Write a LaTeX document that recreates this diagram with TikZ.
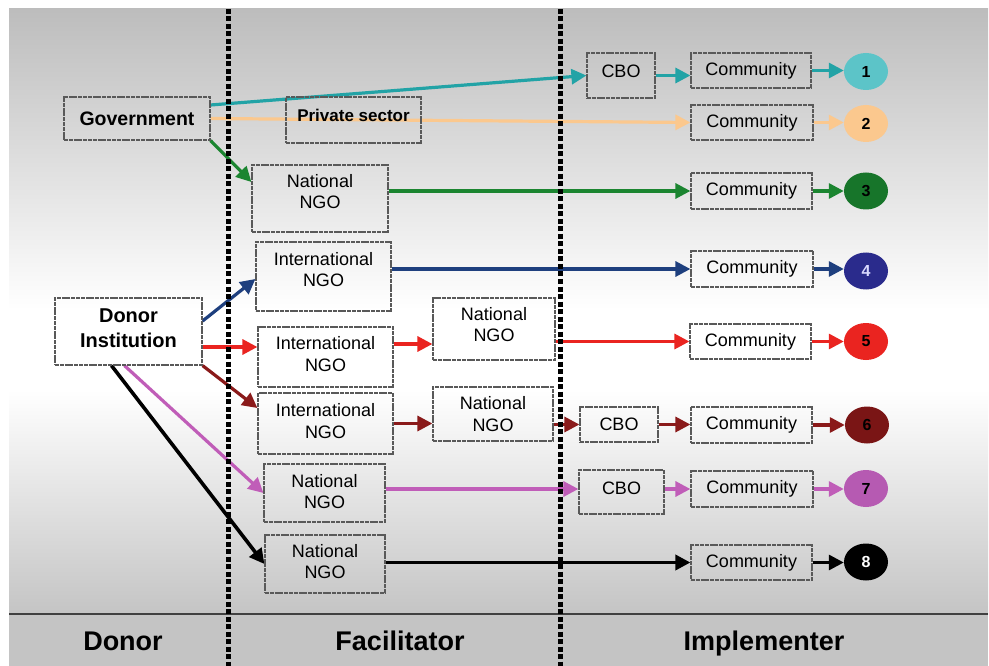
\documentclass[tikz,border=0pt]{standalone}
\usepackage{fontspec}
\setmainfont{Liberation Sans}
\usetikzlibrary{arrows.meta,shapes.geometric,calc,backgrounds}

\definecolor{cteal}{HTML}{22A3A6}
\definecolor{ctealc}{HTML}{5CC4C8}
\definecolor{cpeach}{HTML}{FBC88E}
\definecolor{cgreen}{HTML}{1B8530}
\definecolor{cgreenc}{HTML}{17752A}
\definecolor{cnavy}{HTML}{1E3F7E}
\definecolor{cnavyc}{HTML}{2A2B8C}
\definecolor{cred}{HTML}{EA2420}
\definecolor{cdred}{HTML}{8A1A1A}
\definecolor{cdredc}{HTML}{7A1515}
\definecolor{cmag}{HTML}{C05DB8}
\definecolor{cmagc}{HTML}{B65AB2}

\begin{document}
\begin{tikzpicture}[x=1pt,y=-1pt,
  box/.style={draw=black!65, line width=1.2pt, dash pattern=on 4pt off 0.8pt, inner sep=0pt,
              font=\fontsize{18}{21.5}\selectfont, align=center},
  lbl/.style={align=center, font=\fontsize{18}{21.5}\selectfont, inner sep=0pt},
  blbl/.style={align=center, font=\fontsize{20}{25}\selectfont\bfseries, inner sep=0pt},
  num/.style={ellipse, minimum width=44pt, minimum height=37pt, inner sep=0pt,
              font=\fontsize{16}{16}\selectfont\bfseries},
  arr/.style={line width=3.2pt, -{Triangle[length=15pt,width=15pt]}},
  zone/.style={font=\fontsize{27}{27}\selectfont\bfseries, inner sep=0pt, anchor=base},
  sepline/.style={line width=5pt, dash pattern=on 5pt off 2.5pt},
]
\useasboundingbox (0,0) rectangle (989,666);
\begin{scope}[on background layer]
  \fill[white] (0,0) rectangle (989,666);
  \shade[top color=black!26, bottom color=white] (9,9) rectangle (988,310);
  \fill[white] (9,309) rectangle (988,391);
  \shade[top color=white, bottom color=black!23] (9,390) rectangle (988,614);
  \fill[black!23] (9,614) rectangle (988,666);
  \draw[black!75, line width=2pt] (9,614) -- (988,614);
\end{scope}

% nodes
\node[box, minimum width=146pt, minimum height=43pt, font=\fontsize{19.5}{22}\selectfont\bfseries] (gov) at (137,118.5) {Government};
\node[box, minimum width=135pt, minimum height=46pt, label={[blbl, font=\fontsize{17}{20}\selectfont\bfseries, yshift=5pt]center:Private sector}] (priv) at (353.5,120) {};
\node[box, minimum width=68pt, minimum height=45pt, label={[lbl, yshift=4pt]center:CBO}] (cbo1) at (621,75.5) {};
\node[box, minimum width=120pt, minimum height=35pt] (com1) at (751,70.5) {Community};
\node[num, fill=ctealc] (c1) at (866,71.5) {1};
\node[box, minimum width=122pt, minimum height=35pt] (com2) at (752,122.5) {Community};
\node[num, fill=cpeach] (c2) at (866,123.5) {2};
\node[box, minimum width=136pt, minimum height=67pt, label={[lbl, yshift=7pt]center:National\\NGO}] (n3) at (320,198.5) {};
\node[box, minimum width=121pt, minimum height=36pt] (com3) at (751.5,191) {Community};
\node[num, fill=cgreenc] (c3) at (866,191) {3};
\node[box, minimum width=135pt, minimum height=69pt, label={[lbl, yshift=7pt]center:International\\NGO}] (i4) at (323.5,276.5) {};
\node[box, minimum width=122pt, minimum height=36pt] (com4) at (752,269) {Community};
\node[num, fill=cnavyc, text=white!85!blue] (c4) at (866,271) {4};
\node[box, minimum width=147pt, minimum height=67pt, label={[blbl, yshift=3pt]center:Donor\\Institution}] (donor) at (128.5,331.5) {};
\node[box, minimum width=135pt, minimum height=60pt, label={[lbl, yshift=3pt]center:International\\NGO}] (i5) at (325.5,357) {};
\node[box, minimum width=122pt, minimum height=62pt, label={[lbl, yshift=4.5pt]center:National\\NGO}] (n5) at (494,329) {};
\node[box, minimum width=121pt, minimum height=35pt] (com5) at (750.5,341.5) {Community};
\node[num, fill=cred] (c5) at (866,341.5) {5};
\node[box, minimum width=135pt, minimum height=61pt, label={[lbl, yshift=2.5pt]center:International\\NGO}] (i6) at (325.5,423.5) {};
\node[box, minimum width=120pt, minimum height=54pt, label={[lbl]center:National\\NGO}] (n6) at (493,414) {};
\node[box, minimum width=78pt, minimum height=35pt] (cbo6) at (619,424.5) {CBO};
\node[box, minimum width=121pt, minimum height=36pt] (com6) at (751.5,425) {Community};
\node[num, fill=cdredc] (c6) at (867,425) {6};
\node[box, minimum width=121pt, minimum height=58pt, label={[lbl, yshift=1.5pt]center:National\\NGO}] (n7) at (324.5,493) {};
\node[box, minimum width=85pt, minimum height=44pt, label={[lbl, yshift=4pt]center:CBO}] (cbo7) at (621.5,492) {};
\node[box, minimum width=122pt, minimum height=36pt] (com7) at (752,489) {Community};
\node[num, fill=cmagc] (c7) at (866,488.5) {7};
\node[box, minimum width=120pt, minimum height=58pt, label={[lbl, yshift=2.5pt]center:National\\NGO}] (n8) at (325,564) {};
\node[box, minimum width=121pt, minimum height=35pt] (com8) at (751.5,562.5) {Community};
\node[num, fill=black, text=white] (c8) at (866,562) {8};

% zone labels
\node[zone] (zdonor) at (123,650) {Donor};
\node[zone] (zfac) at (400,650) {Facilitator};
\node[zone] (zimp) at (764,650) {Implementer};

% connectors
\begin{scope}[on background layer]
  \draw[arr, cteal] ([yshift=13.5pt]gov.east) -- (cbo1.west);
  \draw[arr, cteal] (cbo1.east) -- (cbo1.east -| com1.west);
  \draw[arr, cteal] (com1.east) -- (com1.east -| c1.west);

  \draw[arr, cpeach] (gov.east) -- (com2.west);
  \draw[arr, cpeach] (com2.east) -- (com2.east -| c2.west);

  \draw[arr, cgreen] (gov.south east) -- ([yshift=16.5pt]n3.west);
  \draw[arr, cgreen] (n3.east |- com3.west) -- (com3.west);
  \draw[arr, cgreen] (com3.east) -- (com3.east -| c3.west);

  \draw[arr, cnavy] ([yshift=10.5pt]donor.east) -- ([yshift=-2.5pt]i4.west);
  \draw[arr, cnavy] (i4.east |- com4.west) -- (com4.west);
  \draw[arr, cnavy] (com4.east) -- (com4.east -| c4.west);

  \draw[arr, cred] ([yshift=-15.5pt]donor.east) -- ([yshift=-15.5pt]donor.east -| i5.west);
  \draw[arr, cred] ([yshift=13pt]i5.east) -- ([yshift=13pt]i5.east -| n5.west);
  \draw[arr, cred] (n5.east |- com5.west) -- (com5.west);
  \draw[arr, cred] (com5.east) -- (com5.east -| c5.west);

  \draw[arr, cdred] (donor.south east) -- ([yshift=15.5pt]i6.west);
  \draw[arr, cdred] (i6.east) -- (i6.east -| n6.west);
  \draw[arr, cdred] (n6.east |- cbo6.west) -- (cbo6.west);
  \draw[arr, cdred] (cbo6.east) -- (cbo6.east -| com6.west);
  \draw[arr, cdred] (com6.east) -- (com6.east -| c6.west);

  \draw[arr, cmag] ([xshift=-4pt]donor.south) -- (n7.west);
  \draw[arr, cmag] ([yshift=4pt]n7.east) -- ([yshift=4pt]n7.east -| cbo7.west);
  \draw[arr, cmag] (cbo7.east |- com7.west) -- (com7.west);
  \draw[arr, cmag] (com7.east) -- (com7.east -| c7.west);

  \draw[arr, black, line width=3.6pt] ([xshift=-17pt]donor.south) -- (n8.west);
  \draw[arr, black, line width=3.6pt] (n8.east |- com8.west) -- (com8.west);
  \draw[arr, black] (com8.east) -- (com8.east -| c8.west);
\end{scope}

% zone separators
\coordinate (s1t) at (228,9);
\coordinate (s1b) at (228,666);
\coordinate (s2t) at (560,9);
\coordinate (s2b) at (560,666);
\draw[sepline] (s1t) -- (s1b);
\draw[sepline] (s2t) -- (s2b);
\end{tikzpicture}
\end{document}
